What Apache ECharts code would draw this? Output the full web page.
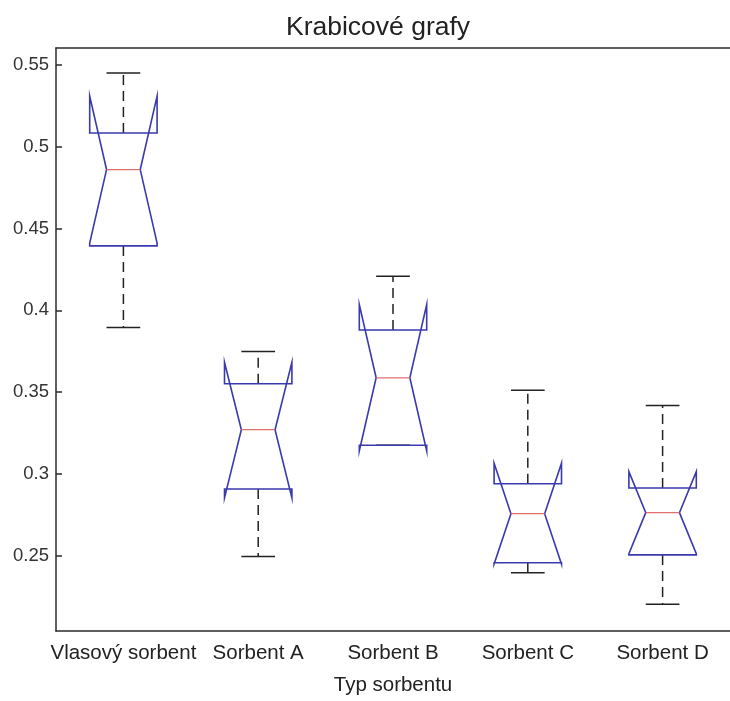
<!DOCTYPE html>
<html>
<head>
<meta charset="utf-8">
<script src="https://cdn.jsdelivr.net/npm/echarts@6.0.0/dist/echarts.min.js"></script>
<style>
  html, body { margin: 0; padding: 0; background: #fff; }
  #chart { width: 730px; height: 701px; }
</style>
</head>
<body>
<div id="chart"></div>
<script>
// hodnoty
const categories = ['Vlasový sorbent', 'Sorbent A', 'Sorbent B', 'Sorbent C', 'Sorbent D'];
const whiskerLow  = [0.3896, 0.2496, 0.3176, 0.2397, 0.2204];
const q1          = [0.4394, 0.2909, 0.3176, 0.2458, 0.2506];
const median      = [0.4860, 0.3271, 0.3588, 0.2758, 0.2764];
const q3          = [0.5084, 0.3552, 0.3880, 0.2941, 0.2915];
const whiskerHigh = [0.5450, 0.3749, 0.4208, 0.3512, 0.3418];
const notchLow    = [0.4411, 0.2854, 0.3141, 0.2450, 0.2513];
const notchHigh   = [0.5309, 0.3683, 0.4035, 0.3066, 0.3015];
const yTicks = [0.25, 0.3, 0.35, 0.4, 0.45, 0.5, 0.55];

const FONT = '"Liberation Sans", Arial, sans-serif';
const AXIS = '#2b2b2b';

const data = categories.map((c, i) => [i, whiskerLow[i], q1[i], median[i], q3[i], whiskerHigh[i], notchLow[i], notchHigh[i]]);

function renderBox(params, api) {
    const idx = api.value(0);
    const x = api.coord([idx, 0])[0];
    const band = api.size([1, 0])[0];
    const hw = band * 0.25;      // polovina šířky krabice
    const cap = band * 0.125;    // polovina šířky fousů
    const y = v => api.coord([idx, v])[1];
    const wl = y(api.value(1)), b1 = y(api.value(2)), md = y(api.value(3)),
          b3 = y(api.value(4)), wh = y(api.value(5)), nl = y(api.value(6)), nh = y(api.value(7));
    const dash = { stroke: '#222', lineWidth: 1.5, lineDash: [10, 6] };
    const solid = { stroke: '#222', lineWidth: 1.5 };
    const blue = { stroke: '#3a3aae', fill: null, lineWidth: 1.6 };
    return {
        type: 'group',
        children: [
            { type: 'line', shape: { x1: x, y1: b3, x2: x, y2: wh }, style: dash },
            { type: 'line', shape: { x1: x, y1: b1, x2: x, y2: wl }, style: dash },
            { type: 'line', shape: { x1: x - cap, y1: wh, x2: x + cap, y2: wh }, style: solid },
            { type: 'line', shape: { x1: x - cap, y1: wl, x2: x + cap, y2: wl }, style: solid },
            {
                type: 'polygon',
                shape: { points: [
                    [x - hw, b1], [x - hw, nl], [x - hw / 2, md], [x - hw, nh], [x - hw, b3],
                    [x + hw, b3], [x + hw, nh], [x + hw / 2, md], [x + hw, nl], [x + hw, b1]
                ] },
                style: blue
            },
            { type: 'line', shape: { x1: x - hw / 2, y1: md, x2: x + hw / 2, y2: md }, style: { stroke: '#e07070', lineWidth: 1.2 } }
        ]
    };
}

const chart = echarts.init(document.getElementById('chart'), null, { renderer: 'canvas' });
chart.setOption({
    animation: false,
    backgroundColor: '#fff',
    textStyle: { fontFamily: FONT },
    title: {
        text: 'Krabicové grafy',
        left: 281, top: 9,
        textStyle: { fontFamily: FONT, fontSize: 26.5, fontWeight: 'normal', color: '#222' }
    },
    grid: { left: 56, top: 48, right: -9, bottom: 63 },
    xAxis: [{
        type: 'category',
        data: categories,
        boundaryGap: true,
        position: 'bottom',
        name: 'Typ sorbentu',
        nameLocation: 'middle',
        nameGap: 44,
        nameTextStyle: { fontFamily: FONT, fontSize: 20.5, color: '#222' },
        axisLine: { lineStyle: { color: AXIS, width: 1.5 } },
        axisTick: { inside: true, alignWithLabel: true, length: 6, lineStyle: { color: AXIS, width: 1.5 } },
        axisLabel: { fontFamily: FONT, fontSize: 20.5, color: '#222', margin: 12, interval: 0 },
        splitLine: { show: false }
    }, {
        type: 'category',
        data: categories,
        boundaryGap: true,
        position: 'top',
        axisLine: { lineStyle: { color: AXIS, width: 1.5 } },
        axisTick: { inside: true, alignWithLabel: true, length: 6, lineStyle: { color: AXIS, width: 1.5 } },
        axisLabel: { show: false },
        splitLine: { show: false }
    }],
    yAxis: {
        type: 'value',
        min: 0.2041,
        max: 0.5603,
        axisLine: { show: true, lineStyle: { color: AXIS, width: 1.5 } },
        axisTick: { show: true, inside: true, length: 6, customValues: yTicks, lineStyle: { color: AXIS, width: 1.5 } },
        axisLabel: { customValues: yTicks, formatter: v => String(v), fontFamily: FONT, fontSize: 18.5, color: '#333', margin: 7 },
        splitLine: { show: false }
    },
    series: [{
        type: 'custom',
        renderItem: renderBox,
        data: data,
        encode: { x: 0, y: [1, 2, 3, 4, 5, 6, 7] },
        clip: false
    }]
});
</script>
</body>
</html>
